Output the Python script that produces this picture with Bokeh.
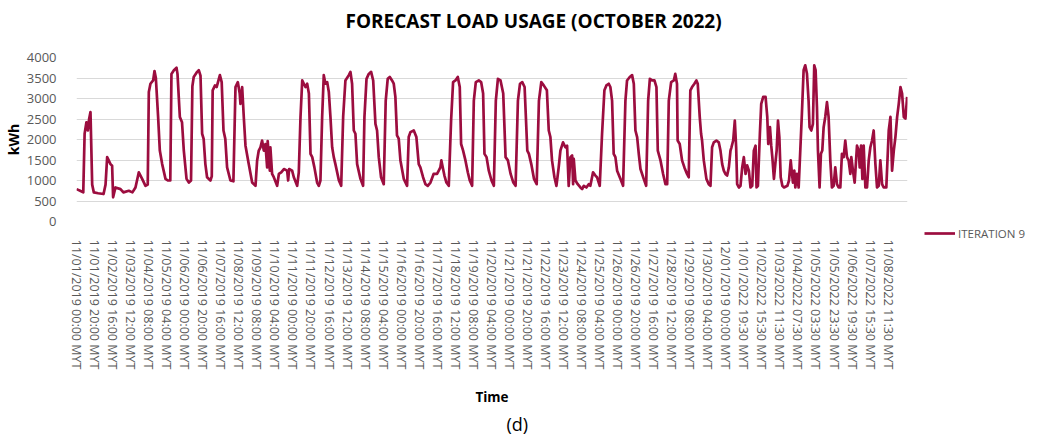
from bokeh.plotting import figure
from bokeh.models import Range1d, FixedTicker, Title, Legend, LegendItem
from bokeh.embed import file_html
from bokeh.resources import INLINE

# hour index since 11/01/2019 00:00 (hourly categories; 2022 data follows 12/01/2019 00:00)
hours = [0, 4, 7.5, 9, 11, 12.6, 14, 15.5, 17.4, 19.2, 24, 30, 32.2, 34, 37.7, 39.5, 40.6, 43.2, 48.8,
         52, 58, 62, 65.4, 69.1, 72.8, 76.5, 79, 80.2, 82, 85, 86.5, 88, 90.5, 92.4, 95, 98.7, 101.3,
         104, 105.3, 108, 110.9, 112, 114.6, 117, 119, 122, 124.6, 127, 128.5, 130, 133.8, 135.6, 137.5,
         139.3, 141, 142.9, 144.8, 148.5, 150, 151, 153.6, 155.4, 159, 161, 163, 165, 167, 170.7, 174,
         176.3, 178.9, 181, 181.8, 183.7, 185.5, 187.4, 191, 194.8, 198.5, 200.3, 202.1, 204, 205.8,
         207.7, 209.5, 211.4, 212, 214.4, 215, 216.9, 218.8, 222.5, 224.4, 227, 230, 233.6, 234.7,
         235.8, 239.1, 241, 244.7, 246.5, 248.4, 250.3, 252.1, 254, 255.8, 257.7, 259.5, 261.4, 263.8,
         266.8, 268.7, 270.5, 272.4, 274.2, 276, 278, 279.8, 281.6, 283.5, 285.3, 287.1, 291, 293.5,
         295.7, 298.2, 302, 303.8, 305.6, 307.5, 309.3, 311.2, 314.9, 317.8, 319.3, 321.6, 324.1, 326.7,
         329, 331.5, 333.3, 335.2, 337.7, 340.7, 342.9, 345.1, 347.4, 349.9, 351.8, 353.6, 355.4, 357.3,
         359.2, 362.9, 366.6, 368.4, 370.3, 374, 376.9, 379.5, 381.3, 384.3, 386.9, 389.5, 392.5, 396,
         399.8, 401.7, 403.5, 404.6, 406.5, 408, 410.2, 412.8, 415.4, 417.6, 420.2, 422.8, 425, 426.5,
         428.7, 431.3, 433.9, 436.1, 438.7, 440.6, 442.8, 446.1, 448.7, 450.9, 452.4, 454.7, 457.2,
         460.2, 462.8, 465, 467.3, 470.2, 473.2, 475.8, 478.4, 481.4, 484.4, 486.9, 489.5, 491.8, 494.3,
         496.9, 499.9, 501.7, 504.3, 507.3, 510.3, 512.8, 515.4, 518.1, 521.6, 523.7, 525.5, 527.3, 530,
         532.2, 534.7, 536.6, 539.5, 542.1, 544, 545.8, 547.7, 549.6, 550.7, 551.4, 553.3, 555.8, 558.8,
         560.7, 562.5, 565.4, 568, 569.8, 572.8, 575.4, 577.2, 580.2, 582.8, 585.4, 587.6, 590.2, 592,
         593.9, 595.7, 597.6, 599.5, 603.1, 606.1, 608.7, 610.5, 613.5, 616.1, 618, 619.8, 621.7, 623.5,
         625.4, 629, 631.7, 633.9, 635.8, 638.3, 640.9, 643.1, 644.6, 647.6, 650.5, 653.1, 655, 656.8,
         659.4, 662.4, 664, 665.9, 666.6, 668.9, 671.5, 674.1, 677, 678.9, 680.7, 682.6, 685.2, 687.4,
         688.9, 691.1, 692.6, 693.7, 695.6, 698.5, 701.1, 703, 704.8, 706.7, 709.6, 712.2, 714.1, 716,
         717.8, 719.6, 721.5, 723.4, 725.2, 726.3, 728.2, 730, 731.5, 732.6, 734.5, 736.3, 738.2, 740,
         741.9, 743.7, 745.6, 747.4, 749.3, 751.1, 753, 754.1, 755.6, 757.8, 759.3, 761.5, 764.1, 766,
         767.1, 769, 770.4, 771.6, 773.4, 775.3, 776.4, 777.9, 779.4, 780.9, 782.7, 784.6, 788.3, 790.1,
         792, 793.4, 794.5, 796, 797.1, 798.9, 800.8, 802.6, 804.4, 806.3, 808.1, 810, 811.8, 812.9,
         814.8, 816.6, 818.1, 819.6, 821.1, 822.2, 824, 825.5, 827, 828.5, 830.3, 832.2, 834, 835.9,
         837.7, 839.6, 841.4, 843.3, 845.1, 847, 848.8, 850.7, 852.5, 854.4, 856.2, 858.1, 859.2, 861,
         862.9, 865.5, 867.4, 868.5, 870, 871.5, 872.9, 874.8, 876.6, 878.5, 880.3, 882.2, 884, 885.9,
         887.7, 889.6, 891.4, 893.3, 895.1, 898, 900.7, 902.6, 904.4, 906.3, 908.1, 910, 911.8, 913.7,
         915.5, 917.4, 919.2, 921.1]

load_kwh = [790, 750, 710, 2140, 2420, 2220, 2500, 2670, 900, 710, 690, 670, 900, 1570, 1400, 1360, 590, 830, 790,
            710, 750, 710, 830, 1200, 1040, 870, 900, 3160, 3360, 3440, 3670, 3500, 2550, 1730, 1400, 1040, 1000,
            1000, 3600, 3690, 3750, 3600, 2550, 2420, 1730, 1040, 950, 1000, 3300, 3525, 3650, 3690, 3560,
            2140, 2015, 1400, 1080, 1000, 1100, 3200, 3320, 3280, 3570, 3400, 2220, 2015, 1320, 1000, 980,
            3280, 3400, 3120, 2870, 3280, 2550, 1850, 1400, 950, 870, 1490, 1730, 1810, 1975,
            1730, 1890, 1320, 1960, 1240, 1810, 1160, 1080, 870, 1160, 1200, 1280, 1240, 1000,
            1280, 1240, 1080, 870, 1200, 2550, 3440, 3360, 3280, 3360, 3120, 1650, 1570, 1320,
            950, 870, 1000, 2550, 3570, 3360, 3400, 3160, 2550, 1810, 1570, 1400, 1000, 870,
            2550, 3440, 3570, 3650, 3360, 2220, 2140, 1400, 1040, 870, 2550, 3480, 3600, 3650,
            3440, 2380, 2220, 1570, 1080, 910, 2950, 3480, 3525, 3440, 3360, 3040, 2100, 2020,
            1490, 1040, 870, 2060, 2180, 2220, 2060, 1400, 1320, 1080, 910, 870, 950, 1160,
            1160, 1240, 1320, 1490, 1280, 1120, 950, 870, 2470, 3400, 3440, 3525, 3280, 1890,
            1730, 1490, 1200, 1000, 870, 2950, 3400, 3440, 3400, 3120, 1650, 1570, 1240,
            1000, 870, 2950, 3480, 3440, 3120, 1570, 1490, 1160, 950, 870, 2950, 3360, 3400,
            3280, 1730, 1650, 1400, 1040, 910, 2950, 3400, 3320, 3200, 2220, 2060, 1490, 1080,
            870, 1320, 1730, 1930, 1810, 1850, 870, 1570, 1610, 910, 1530, 1000, 910, 830,
            790, 870, 830, 910, 870, 1200, 1120, 1080, 870, 2140, 3200, 3320, 3360, 3280,
            2950, 1650, 1570, 1240, 1040, 870, 2950, 3440, 3525, 3570, 3360, 2220, 2060, 1650,
            1280, 1040, 870, 2950, 3480, 3440, 3440, 3280, 1730, 1490, 1160, 910, 910, 2950,
            3400, 3440, 3600, 3360, 1975, 1890, 1490, 1320, 1160, 1080, 3200, 3280, 3360, 3440,
            3360, 2550, 2140, 1975, 1490, 1040, 910, 870, 1810, 1930, 1975, 1930, 1730, 1400,
            1240, 1160, 1120, 1320, 1730, 1810, 1975, 2460, 1810, 910, 830, 870, 1320, 1570,
            1160, 1370, 1240, 830, 870, 1730, 1850, 830, 870, 2140, 2870, 3040, 3040, 2550,
            1890, 2300, 1850, 1570, 1040, 1490, 1730, 2460, 2060, 1080, 870, 830, 870, 1000,
            1490, 1160, 950, 1240, 830, 1160, 830, 1730, 2630, 3690, 3810, 3610, 2950, 2300,
            2220, 2380, 3810, 3690, 2790, 1730, 830, 1650, 1730, 2300, 2550, 2910, 2550, 1490,
            830, 870, 1320, 910, 830, 830, 1650, 1570, 1975, 1570, 1490, 1160, 1570, 1240,
            950, 1850, 1730, 1320, 1850, 1040, 1850, 830, 830, 1490, 1810, 1975, 2220, 1400,
            830, 870, 1490, 910, 830, 830, 2220, 2550, 1240, 1730, 2060, 2550, 2870, 3280,
            3120, 2550, 2510, 3040]

tick_hours = list(range(0, 901, 20))
tick_labels = [
    "11/01/2019 00:00 MYT", "11/01/2019 20:00 MYT", "11/02/2019 16:00 MYT", "11/03/2019 12:00 MYT",
    "11/04/2019 08:00 MYT", "11/05/2019 04:00 MYT", "11/06/2019 00:00 MYT", "11/06/2019 20:00 MYT",
    "11/07/2019 16:00 MYT", "11/08/2019 12:00 MYT", "11/09/2019 08:00 MYT", "11/10/2019 04:00 MYT",
    "11/11/2019 00:00 MYT", "11/11/2019 20:00 MYT", "11/12/2019 16:00 MYT", "11/13/2019 12:00 MYT",
    "11/14/2019 08:00 MYT", "11/15/2019 04:00 MYT", "11/16/2019 00:00 MYT", "11/16/2019 20:00 MYT",
    "11/17/2019 16:00 MYT", "11/18/2019 12:00 MYT", "11/19/2019 08:00 MYT", "11/20/2019 04:00 MYT",
    "11/21/2019 00:00 MYT", "11/21/2019 20:00 MYT", "11/22/2019 16:00 MYT", "11/23/2019 12:00 MYT",
    "11/24/2019 08:00 MYT", "11/25/2019 04:00 MYT", "11/26/2019 00:00 MYT", "11/26/2019 20:00 MYT",
    "11/27/2019 16:00 MYT", "11/28/2019 12:00 MYT", "11/29/2019 08:00 MYT", "11/30/2019 04:00 MYT",
    "12/01/2019 00:00 MYT", "11/01/2022 19:30 MYT", "11/02/2022 15:30 MYT", "11/03/2022 11:30 MYT",
    "11/04/2022 07:30 MYT", "11/05/2022 03:30 MYT", "11/05/2022 23:30 MYT", "11/06/2022 19:30 MYT",
    "11/07/2022 15:30 MYT", "11/08/2022 11:30 MYT"]
y_ticks = list(range(0, 4001, 500))

FONT = "Open Sans"

p = figure(frame_width=831, frame_height=164, output_backend="svg", toolbar_location=None,
           x_range=Range1d(0, 921.5), y_range=Range1d(0, 4000),
           min_border_left=76, min_border_right=120, min_border_top=57, min_border_bottom=210)
p.outline_line_color = None
p.background_fill_color = "white"

r = p.line(hours, load_kwh, line_color="#9C0D3F", line_width=2.7, line_join="round")

p.xgrid.visible = False
p.ygrid.ticker = FixedTicker(ticks=y_ticks)
p.ygrid.grid_line_color = "#D9D9D9"
p.ygrid.grid_line_width = 1

p.yaxis.ticker = FixedTicker(ticks=y_ticks)
p.yaxis.axis_line_color = None
p.yaxis.major_tick_line_color = None
p.yaxis.minor_tick_line_color = None
p.yaxis.major_label_standoff = 14
p.yaxis.major_label_text_font = FONT
p.yaxis.major_label_text_font_size = "13px"
p.yaxis.major_label_text_color = "#595959"
p.yaxis.axis_label = "kWh"
p.yaxis.axis_label_standoff = 1
p.yaxis.axis_label_text_font = FONT
p.yaxis.axis_label_text_font_style = "bold"
p.yaxis.axis_label_text_font_size = "14px"
p.yaxis.axis_label_text_color = "#000000"

p.xaxis.ticker = FixedTicker(ticks=tick_hours)
p.xaxis.major_label_overrides = {h: lab for h, lab in zip(tick_hours, tick_labels)}
p.xaxis.major_label_orientation = "vertical"
p.xaxis.axis_line_color = None
p.xaxis.major_tick_line_color = None
p.xaxis.minor_tick_line_color = None
p.xaxis.major_label_standoff = 12
p.xaxis.major_label_text_font = FONT
p.xaxis.major_label_text_font_size = "12.5px"
p.xaxis.major_label_text_color = "#595959"
p.xaxis.axis_label = "Time"
p.xaxis.axis_label_standoff = 16
p.xaxis.axis_label_text_font = FONT
p.xaxis.axis_label_text_font_style = "bold"
p.xaxis.axis_label_text_font_size = "13.5px"
p.xaxis.axis_label_text_color = "#000000"

# spacer (nearest the frame), then the chart title above it
p.add_layout(Title(text=" ", text_font_size="10px", standoff=9), "above")
p.add_layout(Title(text="FORECAST LOAD USAGE (OCTOBER 2022)", align="left", offset=269, standoff=4,
                   text_font=FONT, text_font_style="bold", text_font_size="19px",
                   text_color="#000000"), "above")
p.add_layout(Title(text="(d)", align="left", offset=430, standoff=0, text_font=FONT,
                   text_font_style="normal", text_font_size="18px", text_color="#000000"), "below")

legend = Legend(items=[LegendItem(label="ITERATION 9", renderers=[r])], location=(17, -20),
                padding=0, margin=0, spacing=0, glyph_width=31, glyph_height=16, label_height=16,
                label_standoff=3, label_text_font=FONT, label_text_font_size="11.5px",
                label_text_color="#595959", border_line_color=None, background_fill_alpha=0)
p.add_layout(legend, "right")

open("out.html", "w").write(file_html(p, INLINE))
